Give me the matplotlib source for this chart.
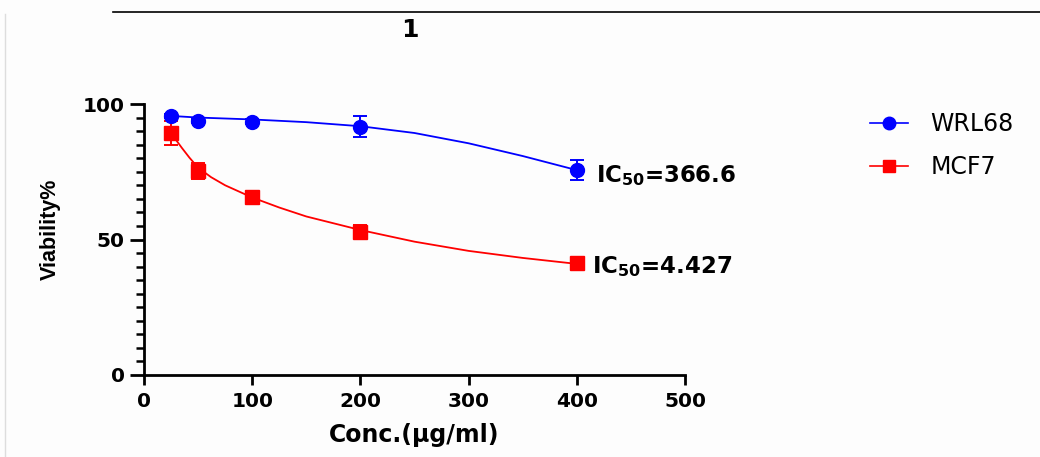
import matplotlib
matplotlib.use("Agg")
import matplotlib.pyplot as plt
from matplotlib.lines import Line2D
from matplotlib.ticker import MultipleLocator

plt.rcParams['font.family'] = ['DejaVu Sans']
plt.rcParams['mathtext.default'] = 'bf'

conc = [25, 50, 100, 200, 400]
wrl68 = [95.6, 93.8, 93.5, 91.6, 75.6]
wrl68_err = [0.8, 0.8, 0.8, 3.9, 3.7]
mcf7 = [89.2, 75.4, 65.8, 52.9, 41.2]
mcf7_err = [4.4, 3.0, 1.2, 2.5, 2.0]

fit_x_wrl = [25, 50, 100, 150, 200, 250, 300, 350, 400]
fit_y_wrl = [95.6, 95.0, 94.3, 93.3, 91.8, 89.3, 85.5, 80.8, 75.6]
fit_x_mcf = [25, 30, 35, 42, 50, 62, 75, 100, 125, 150, 200, 250, 300, 350, 400]
fit_y_mcf = [89.5, 86.5, 83.8, 80.2, 76.5, 73.0, 70.0, 65.5, 61.8, 58.5, 53.5, 49.2, 45.8, 43.2, 41.0]

ic50_labels = ["366.6", "4.427"]
title = "1"
blue = '#0000ff'
red = '#ff0000'

fig = plt.figure(figsize=(10.4, 4.57), dpi=100)
fig.patch.set_facecolor('#fdfdfd')
ax = fig.add_axes([144/1040, 1-375/457, (685-144)/1040, (375-104)/457])
ax.set_facecolor('none')

ax.plot(fit_x_wrl, fit_y_wrl, color=blue, lw=1.3)
ax.plot(fit_x_mcf, fit_y_mcf, color=red, lw=1.3)
ax.errorbar(conc, wrl68, yerr=wrl68_err, fmt='o', color=blue, ms=10, capsize=5, elinewidth=1.4, capthick=1.4)
ax.errorbar(conc, mcf7, yerr=mcf7_err, fmt='s', color=red, ms=10, capsize=5, elinewidth=1.4, capthick=1.4)

ax.set_xlim(0, 500)
ax.set_ylim(0, 100)
ax.set_xticks([0, 100, 200, 300, 400, 500])
ax.set_yticks([0, 50, 100])
ax.yaxis.set_minor_locator(MultipleLocator(5))
for s in ['top', 'right']:
    ax.spines[s].set_visible(False)
for s in ['left', 'bottom']:
    ax.spines[s].set_linewidth(2)
    ax.spines[s].set_clip_on(False)
ax.tick_params(axis='both', which='major', width=2, labelsize=14.5)
ax.tick_params(axis='y', which='major', length=10, pad=4)
ax.tick_params(axis='x', which='major', length=7, pad=5)
ax.tick_params(axis='y', which='minor', width=1.8, length=6)
for lab in ax.get_xticklabels() + ax.get_yticklabels():
    lab.set_fontweight('bold')
for a in ax.get_lines():
    a.set_clip_on(False)

ax.set_xlabel("Conc.(μg/ml)", fontsize=17, fontweight='bold', labelpad=9)
fig.text(50/1040, 1-229/457, "Viability%", rotation=90, fontsize=15.5, fontweight='bold',
         family=['Liberation Sans', 'DejaVu Sans'], ha='center', va='center')

ax.annotate("IC$_{50}$=" + ic50_labels[0], xy=(418, 71.2), fontsize=16.5, fontweight='bold',
            va='baseline', ha='left', annotation_clip=False)
ax.annotate("IC$_{50}$=" + ic50_labels[1], xy=(414, 37.6), fontsize=16.5, fontweight='bold',
            va='baseline', ha='left', annotation_clip=False)

fig.text(410/1040, 1-30/457, title, fontsize=18, fontweight='bold', ha='center', va='center')

# decorative frame lines
fig.add_artist(Line2D([113/1040, 1.0], [1-12/457, 1-12/457], color='black', lw=1.2, transform=fig.transFigure))
fig.add_artist(Line2D([5/1040, 5/1040], [0, 1-14/457], color='#dddddd', lw=1.0, transform=fig.transFigure))

handles = [Line2D([], [], color=blue, marker='o', ms=9, lw=1.2),
           Line2D([], [], color=red, marker='s', ms=9, lw=1.2)]
leg = fig.legend(handles, ["WRL68", "MCF7"], loc='upper left', bbox_to_anchor=(870/1040, 1-112/457),
                 frameon=False, fontsize=17, handlelength=1.6, labelspacing=0.82, handletextpad=0.95,
                 borderpad=0, borderaxespad=0)

fig.savefig("out.png", dpi=100, facecolor=fig.get_facecolor())
